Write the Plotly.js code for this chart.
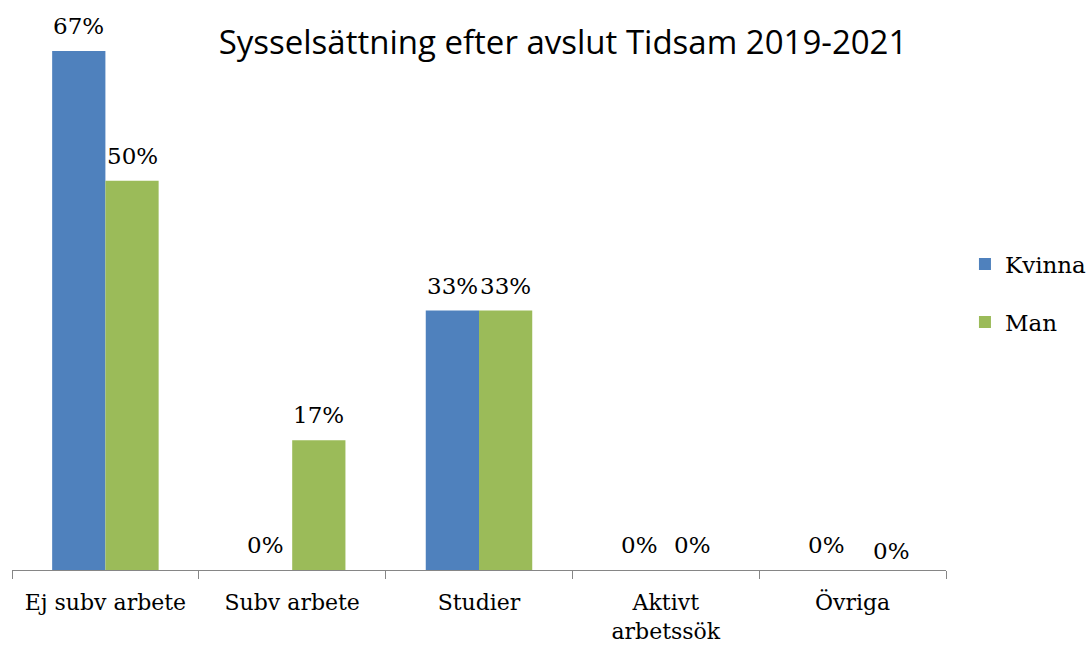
<!DOCTYPE html>
<html>
<head>
<meta charset="utf-8">
<script src="https://cdn.plot.ly/plotly-3.0.1.min.js"></script>
<style>html,body{margin:0;padding:0;background:#fff;}#chart{width:1089px;height:646px;}</style>
</head>
<body>
<div id="chart"></div>
<script>
const categories = ["Ej subv arbete", "Subv arbete", "Studier", "Aktivt<br>arbetssök", "Övriga"];
const kvinna = [66.67, 0, 33.33, 0, 0];
const man = [50, 16.67, 33.33, 0, 0];
const seriesNames = ["Kvinna", "Man"];
const colors = ["#4F81BD", "#9BBB59"];

const fmt = v => Math.round(v) + "%";
const serif = "DejaVu Serif, Liberation Serif, serif";

const traces = [kvinna, man].map((vals, i) => ({
  type: "bar",
  name: seriesNames[i],
  x: categories,
  y: vals,
  marker: {color: colors[i]},
  legendgroup: "g" + i,
  hoverinfo: "skip"
}));

// data labels as annotations, placed through the axes
const annotations = [];
[kvinna, man].forEach((vals, i) => {
  vals.forEach((v, j) => {
    let xs = i === 0 ? -26.6 : 26.6;
    let ys = 10;
    if (i === 1 && j === 4) { xs += 12; ys -= 6; }
    annotations.push({
      x: categories[j], y: v, xref: "x", yref: "y",
      text: fmt(v), showarrow: false,
      xanchor: "center", yanchor: "bottom",
      xshift: xs, yshift: ys,
      font: {family: serif, size: 23, color: "#000"}
    });
  });
});

const layout = {
  width: 1089, height: 646,
  margin: {l: 12, r: 143, t: 25, b: 76, autoexpand: false},
  paper_bgcolor: "#fff", plot_bgcolor: "#fff",
  title: {text: "Sysselsättning efter avslut Tidsam 2019-2021",
          font: {family: "Open Sans, sans-serif", size: 33, color: "#000"},
          x: 0.517, xanchor: "center", y: 0.935, yanchor: "middle"},
  barmode: "group", bargap: 0.43, bargroupgap: 0,
  xaxis: {showline: true, linecolor: "#868686", linewidth: 1,
          ticks: "outside", tickson: "boundaries", ticklen: 8, tickcolor: "#868686",
          ticklabelstandoff: 13,
          tickfont: {family: serif, size: 22, color: "#000"}, showgrid: false, zeroline: false},
  yaxis: {visible: false, range: [0, 70]},
  annotations: annotations,
  showlegend: true,
  legend: {x: 1.0203, xanchor: "left", y: 0.508, yanchor: "middle",
           font: {family: serif, size: 23, color: "#000"},
           tracegroupgap: 25, itemwidth: 30}
};

Plotly.newPlot("chart", traces, layout, {staticPlot: true});
</script>
</body>
</html>
